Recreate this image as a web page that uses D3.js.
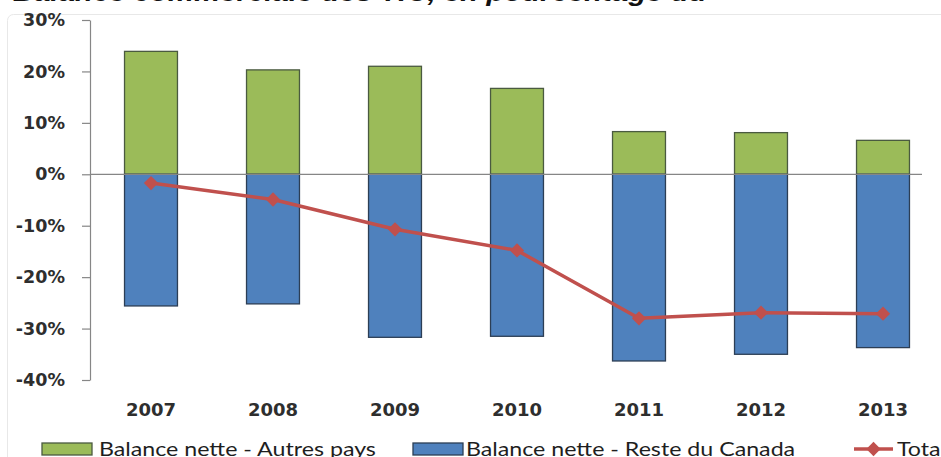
<!DOCTYPE html>
<html lang="fr">
<head>
<meta charset="utf-8">
<script src="https://cdn.jsdelivr.net/npm/d3@7"></script>
<style>
  html, body { margin: 0; padding: 0; background: #fff; }
  svg { display: block; }
</style>
</head>
<body>
<svg id="chart" width="941" height="457"></svg>
<script>
// Soldes des échanges, en % — 2007 à 2013
const years = ["2007", "2008", "2009", "2010", "2011", "2012", "2013"];
const autresPays = [23.9, 20.3, 21.0, 16.7, 8.3, 8.1, 6.6];
const resteCanada = [-25.6, -25.2, -31.7, -31.5, -36.3, -35.0, -33.7];
const total = [-1.7, -4.9, -10.7, -14.8, -28.0, -26.9, -27.1];
const yTicks = [30, 20, 10, 0, -10, -20, -30, -40];
const legendLabels = ["Balance nette - Autres pays", "Balance nette - Reste du Canada", "Total"];
const titleText = "Balance commerciale des TIC, en pourcentage du";

const colors = { green: "#9BBB59", blue: "#4F81BD", red: "#C0504D", axis: "#868686", text: "#262626" };

const svg = d3.select("#chart");

// faint frame of the chart area
svg.append("rect")
  .attr("x", 7.5).attr("y", 14.5).attr("width", 960).attr("height", 470)
  .attr("rx", 6).attr("fill", "none").attr("stroke", "#e8e8e8");

// title, mostly above the visible area
svg.append("text")
  .attr("transform", "translate(13,1) scale(1.13,1)")
  .attr("font-family", "Liberation Sans, Arial, sans-serif")
  .attr("font-size", 26).attr("font-weight", "bold").attr("font-style", "italic")
  .attr("fill", "#111")
  .text(titleText);

const y = d3.scaleLinear().domain([-40, 30]).range([380, 20]);
const x = d3.scaleBand().domain(years).range([90, 944])
  .paddingInner(0.566).paddingOuter(0.283);

// y axis
const yAxis = svg.append("g")
  .attr("transform", "translate(90,0)")
  .call(d3.axisLeft(y).tickValues(yTicks).tickSize(8).tickSizeOuter(0).tickPadding(17)
    .tickFormat(d => d + "%"));
yAxis.select(".domain").attr("stroke", colors.axis).attr("stroke-width", 1.2);
yAxis.selectAll(".tick line").attr("stroke", colors.axis).attr("stroke-width", 1.2);
yAxis.selectAll(".tick text")
  .attr("font-family", "DejaVu Sans, Verdana, sans-serif")
  .attr("font-size", 17.5).attr("font-weight", "bold").attr("fill", "#2e2e2e");

// x labels
svg.append("g").selectAll("text").data(years).join("text")
  .attr("x", d => x(d) + x.bandwidth() / 2)
  .attr("y", 416)
  .attr("text-anchor", "middle")
  .attr("font-family", "DejaVu Sans, Verdana, sans-serif")
  .attr("font-size", 18).attr("font-weight", "bold").attr("fill", "#2e2e2e")
  .text(d => d);

// bars
svg.append("g").selectAll("rect").data(years).join("rect")
  .attr("x", d => x(d)).attr("width", x.bandwidth())
  .attr("y", (d, i) => y(autresPays[i]))
  .attr("height", (d, i) => y(0) - y(autresPays[i]))
  .attr("fill", colors.green).attr("stroke", "#4a5a40").attr("stroke-width", 1.3);

svg.append("g").selectAll("rect").data(years).join("rect")
  .attr("x", d => x(d)).attr("width", x.bandwidth())
  .attr("y", y(0))
  .attr("height", (d, i) => y(resteCanada[i]) - y(0))
  .attr("fill", colors.blue).attr("stroke", "#2c3e55").attr("stroke-width", 1.3);

// zero line
svg.append("line")
  .attr("x1", 90).attr("x2", 922)
  .attr("y1", y(0)).attr("y2", y(0))
  .attr("stroke", colors.axis).attr("stroke-width", 1.2);

// total line with diamond markers
const line = d3.line()
  .x((d, i) => x(years[i]) + x.bandwidth() / 2)
  .y(d => y(d));
svg.append("path").datum(total)
  .attr("d", line)
  .attr("fill", "none").attr("stroke", colors.red).attr("stroke-width", 3.5)
  .attr("stroke-linejoin", "round");

const diamond = d3.symbol().type(d3.symbolDiamond2).size(130);
svg.append("g").selectAll("path").data(total).join("path")
  .attr("transform", (d, i) => `translate(${x(years[i]) + x.bandwidth() / 2},${y(d)})`)
  .attr("d", diamond)
  .attr("fill", colors.red);

// legend
const legend = svg.append("g");
const legendFont = { family: "Lato, Calibri, sans-serif", size: 20 };
const stretch = 1.16;

function legendText(xPos, label) {
  legend.append("text")
    .attr("transform", `translate(${xPos},455.5) scale(${stretch},1)`)
    .attr("font-family", legendFont.family).attr("font-size", legendFont.size)
    .attr("fill", "#1e1e1e")
    .text(label);
}

legend.append("rect").attr("x", 42).attr("y", 443).attr("width", 50).attr("height", 12)
  .attr("fill", colors.green).attr("stroke", "#4a5a40").attr("stroke-width", 1.3);
legendText(99, legendLabels[0]);

legend.append("rect").attr("x", 413).attr("y", 443).attr("width", 50).attr("height", 12)
  .attr("fill", colors.blue).attr("stroke", "#2c3e55").attr("stroke-width", 1.3);
legendText(466, legendLabels[1]);

legend.append("line").attr("x1", 854).attr("x2", 893).attr("y1", 449).attr("y2", 449)
  .attr("stroke", colors.red).attr("stroke-width", 3.5);
legend.append("path").attr("transform", "translate(873.5,449)").attr("d", diamond)
  .attr("fill", colors.red);
legendText(897, legendLabels[2]);
</script>
</body>
</html>
